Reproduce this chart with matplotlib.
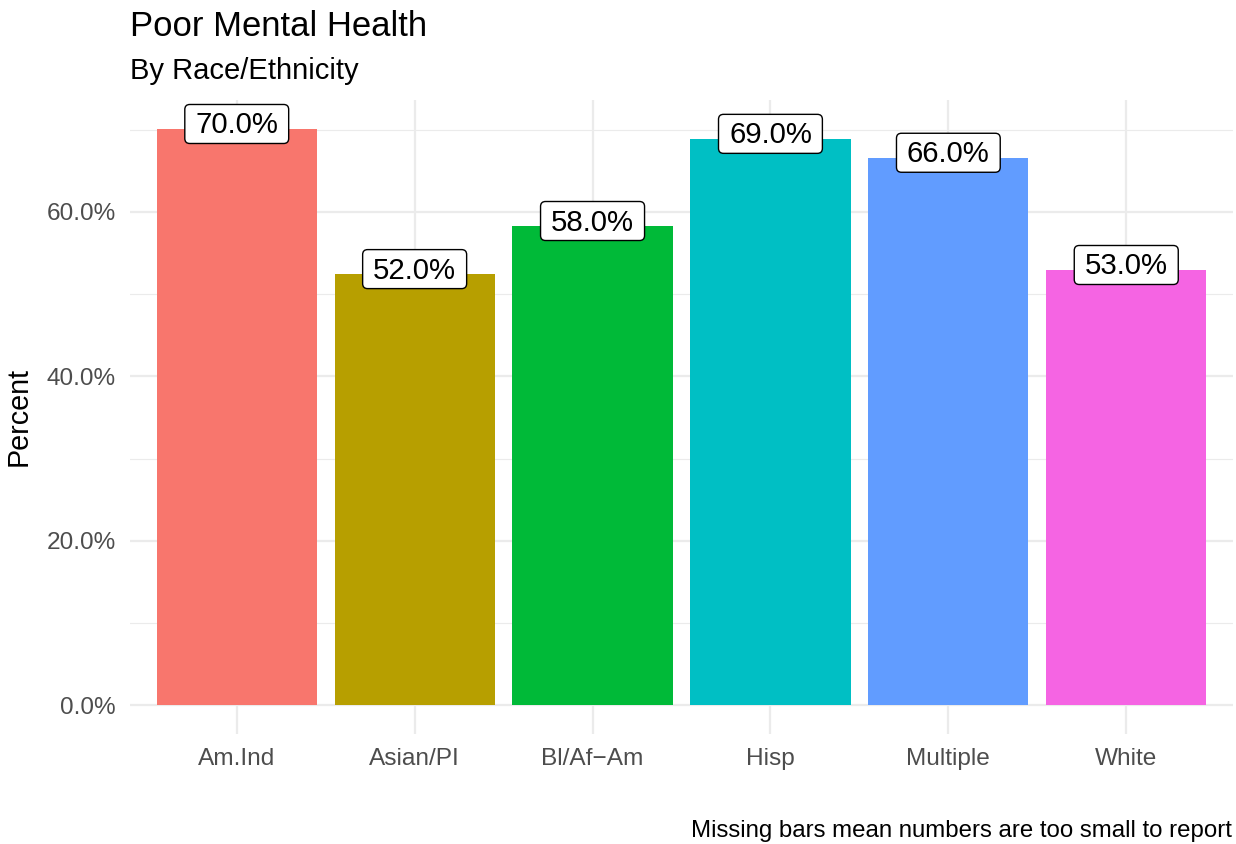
import matplotlib
matplotlib.use("Agg")
import matplotlib.pyplot as plt
from matplotlib.ticker import FixedLocator
from matplotlib.patches import FancyBboxPatch
from matplotlib.transforms import IdentityTransform

categories = ["Am.Ind", "Asian/PI", "Bl/Af\u2212Am", "Hisp", "Multiple", "White"]
values = [70.1, 52.45, 58.3, 68.9, 66.6, 52.95]
labels = ["70.0%", "52.0%", "58.0%", "69.0%", "66.0%", "53.0%"]
colors = ["#F8766D", "#B79F00", "#00BA38", "#00BFC4", "#619CFF", "#F564E3"]
y_major = [0, 20, 40, 60]
y_minor = [10, 30, 50, 70]
y_ticklabels = ["0.0%", "20.0%", "40.0%", "60.0%"]

plt.rcParams["font.family"] = ["Liberation Sans", "DejaVu Sans"]

W, H, DPI = 1236, 844, 100
fig = plt.figure(figsize=(W / DPI, H / DPI), dpi=DPI)
ax = fig.add_axes([130 / W, 1 - 734 / H, (1233 - 130) / W, (734 - 100) / H])

x = list(range(len(categories)))
ax.bar(x, values, width=0.9, color=colors, zorder=2)

vmax = max(values)
ax.set_ylim(-0.05 * vmax, 1.05 * vmax)
ax.set_xlim(-0.6, len(categories) - 0.4)

ax.yaxis.set_major_locator(FixedLocator(y_major))
ax.yaxis.set_minor_locator(FixedLocator(y_minor))
ax.set_yticklabels(y_ticklabels)
ax.set_xticks(x)
ax.set_xticklabels(categories)

ax.grid(True, which="major", axis="both", color="#EBEBEB", linewidth=1.6, zorder=0)
ax.grid(True, which="minor", axis="y", color="#EBEBEB", linewidth=0.8, zorder=0)
ax.set_axisbelow(True)
for s in ax.spines.values():
    s.set_visible(False)
ax.tick_params(axis="both", which="both", length=0, labelsize=17.6, labelcolor="#4D4D4D")
ax.tick_params(axis="y", pad=10)
ax.tick_params(axis="x", pad=10)

texts = []
for xi, v, lab in zip(x, values, labels):
    t = ax.annotate(lab, (xi, v), xytext=(0, 2.4), textcoords="offset points",
                    ha="center", va="center", fontsize=21.2, color="black", zorder=4)
    texts.append(t)

ax.set_ylabel("Percent", fontsize=20.7, color="black", labelpad=10)

fig.text(130 / W, 1 - 26 / H, "Poor Mental Health", fontsize=24.9, ha="left", va="center")
fig.text(130 / W, 1 - 71 / H, "By Race/Ethnicity", fontsize=21, ha="left", va="center")
fig.text(1232 / W, 1 - 831 / H, "Missing bars mean numbers are too small to report",
         fontsize=17.3, ha="right", va="center")

# label boxes sized from the rendered text extents (ggplot geom_label look)
fig.canvas.draw()
renderer = fig.canvas.get_renderer()
padx, pady = 10.5, 5.5
for t in texts:
    bb = t.get_window_extent(renderer)
    box = FancyBboxPatch((bb.x0 - padx, bb.y0 - pady + 1.5), bb.width + 2 * padx, bb.height + 2 * pady,
                         boxstyle="round,pad=0,rounding_size=5", fc="white", ec="black", lw=1.0,
                         transform=IdentityTransform(), zorder=3, clip_on=False)
    ax.add_patch(box)

fig.savefig("out.png", dpi=DPI)
